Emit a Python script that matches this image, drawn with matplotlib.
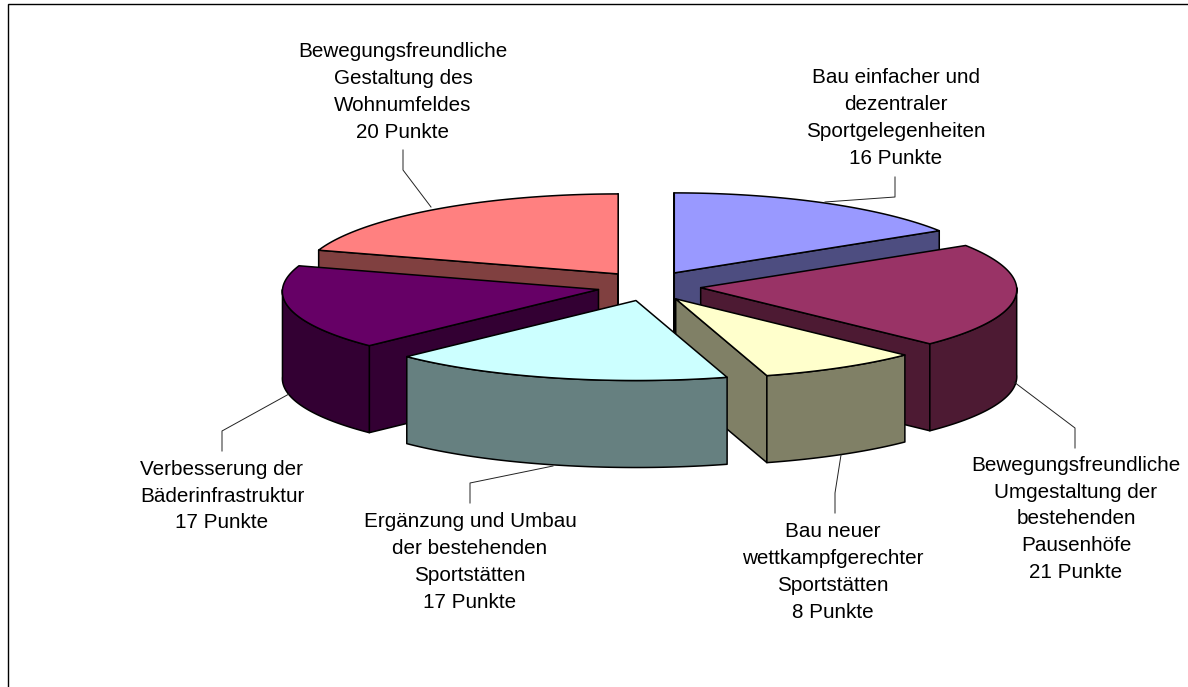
import numpy as np
import matplotlib
matplotlib.use("Agg")
import matplotlib.pyplot as plt
from matplotlib.patches import Polygon

# data (clockwise from 12 o'clock)
names = ["Bau einfacher und\ndezentraler\nSportgelegenheiten",
         "Bewegungsfreundliche\nUmgestaltung der\nbestehenden\nPausenhöfe",
         "Bau neuer\nwettkampfgerechter\nSportstätten",
         "Ergänzung und Umbau\nder bestehenden\nSportstätten",
         "Verbesserung der\nBäderinfrastruktur",
         "Bewegungsfreundliche\nGestaltung des\nWohnumfeldes"]
points = [16, 21, 8, 17, 17, 20]
top_colors = ["#9999FF", "#993366", "#FFFFCC", "#CCFFFF", "#660066", "#FF8080"]
wall_colors = ["#4D4D80", "#4D1A33", "#808066", "#668080", "#330033", "#804040"]

# layout, in pixels
W, H = 1188, 687
CX, CY = 649, 286
A, B = 316, 80
EXA, EXB = 52, 15
DEPTH = 87
PERSP = 0.025
draw_order = [5, 0, 4, 1, 2, 3]
label_xy = [(896, 118), (1076, 519), (833, 572), (470, 562), (222, 496), (403, 92)]
leaders = [[(825, 202), (895, 197), (895, 177)],
           [(1014, 382), (1075, 428), (1075, 448)],
           [(841, 455), (835, 493), (835, 513)],
           [(553, 466), (470, 483), (470, 503)],
           [(289, 394), (222, 431), (222, 451)],
           [(431, 207), (403, 170), (403, 150)]]

plt.rcParams["font.family"] = ["Liberation Sans", "DejaVu Sans"]
fig = plt.figure(figsize=(W / 100, H / 100), dpi=100, facecolor="white")
ax = fig.add_axes([0, 0, 1, 1])
ax.set_xlim(0, W)
ax.set_ylim(H, 0)
ax.axis("off")

ax.plot([W + 5, 7.5, 7.5], [4, 4, H + 5], color="black", lw=1.0, solid_joinstyle="miter", zorder=1)

fracs = np.array(points) / sum(points) * 2 * np.pi
ends = np.cumsum(fracs)
starts = ends - fracs
LW = 1.1
EPS = 1e-9


def rim(i, t):
    mid = (starts[i] + ends[i]) / 2
    ax0 = CX + EXA * np.sin(mid)
    ay0 = CY - EXB * np.cos(mid)
    return ax0, ay0, ax0 + A * np.sin(t) * (1 - PERSP * np.cos(t)), ay0 - B * np.cos(t)


z = 2
for i in draw_order:
    t0, t1 = starts[i], ends[i]
    ts = np.linspace(t0, t1, 120)
    ax0, ay0, xs, ys = rim(i, ts)
    # only the radial walls that face the viewer
    visible = [t for t, ok in ((t0, np.sin(t0) <= EPS), (t1, np.sin(t1) >= -EPS)) if ok]
    for t in visible:
        _, _, x, y = rim(i, t)
        ax.add_patch(Polygon([(ax0, ay0), (x, y), (x, y + DEPTH), (ax0, ay0 + DEPTH)],
                             fc=wall_colors[i], ec="black", lw=LW, zorder=z, joinstyle="round"))
        z += 1
    lo, hi = max(t0, np.pi / 2), min(t1, 3 * np.pi / 2)
    if lo < hi:
        tf = np.linspace(lo, hi, 120)
        _, _, xf, yf = rim(i, tf)
        pts = np.r_[np.c_[xf, yf], np.c_[xf[::-1], yf[::-1] + DEPTH]]
        ax.add_patch(Polygon(pts, fc=wall_colors[i], ec="black", lw=LW, zorder=z, joinstyle="round"))
        z += 1
    ax.add_patch(Polygon(np.r_[[(ax0, ay0)], np.c_[xs, ys]], fc=top_colors[i], ec="black",
                         lw=LW, zorder=z, joinstyle="round"))
    z += 1

for i, name in enumerate(names):
    pts = np.array(leaders[i])
    ax.plot(pts[:, 0], pts[:, 1], color="#222222", lw=0.7, zorder=z)
    ax.text(label_xy[i][0], label_xy[i][1], f"{name}\n{points[i]} Punkte", ha="center", va="center",
            ma="center", fontsize=14.9, linespacing=1.52, color="black", zorder=z)

fig.savefig("out.png", dpi=100)
